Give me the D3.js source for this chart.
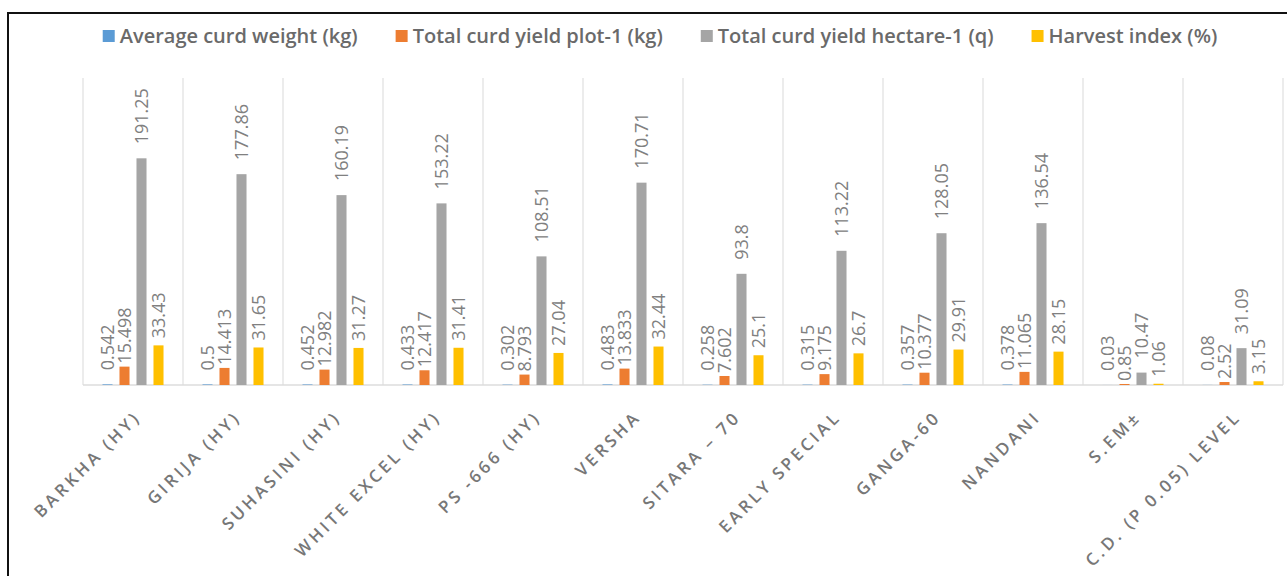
<!DOCTYPE html>
<head>
<meta charset="utf-8">
<style>
body { margin: 0; background: #fff; }
text { font-family: "Open Sans", sans-serif; }
</style>
</head>
<body>
<script src="https://cdn.jsdelivr.net/npm/d3@7"></script>
<script>
// varieties / rows
var categories = ["BARKHA (HY)", "GIRIJA (HY)", "SUHASINI (HY)", "WHITE EXCEL (HY)", "PS -666 (HY)",
    "VERSHA", "SITARA \u2013 70", "EARLY SPECIAL", "GANGA-60", "NANDANI", "S.EM\u00b1", "C.D. (P 0.05) LEVEL"];
var seriesNames = ["Average curd weight (kg)", "Total curd yield plot-1 (kg)",
    "Total curd yield hectare-1 (q)", "Harvest index (%)"];
var avgCurdWeight = [0.542, 0.5, 0.452, 0.433, 0.302, 0.483, 0.258, 0.315, 0.357, 0.378, 0.03, 0.08];
var yieldPlot = [15.498, 14.413, 12.982, 12.417, 8.793, 13.833, 7.602, 9.175, 10.377, 11.065, 0.85, 2.52];
var yieldHectare = [191.25, 177.86, 160.19, 153.22, 108.51, 170.71, 93.8, 113.22, 128.05, 136.54, 10.47, 31.09];
var harvestIndex = [33.43, 31.65, 31.27, 31.41, 27.04, 32.44, 25.1, 26.7, 29.91, 28.15, 1.06, 3.15];

var values = [avgCurdWeight, yieldPlot, yieldHectare, harvestIndex];
var colors = ["#5b9bd5", "#ed7d31", "#a5a5a5", "#ffc000"];
var labelGap = [14, 3, 14, 7];

width = 1287, height = 576;
plotTop = 78, base = 385;

svg = d3.select("body").append("svg")
    .attr("width", width)
    .attr("height", height);

// outer frame (runs off the right and bottom edge)
svg.append("rect")
    .attr("x", 8).attr("y", 13)
    .attr("width", 1300).attr("height", 600)
    .attr("fill", "none")
    .attr("stroke", "#111")
    .attr("stroke-width", 2);

x0 = d3.scaleBand().domain(categories).range([83, 1283]);
x1 = d3.scaleBand().domain(d3.range(4)).range([0, x0.bandwidth()])
    .paddingInner(0.41).paddingOuter(1.146);
y = d3.scaleLinear().domain([0, 259]).range([base, plotTop]);

// vertical gridlines between categories
grid = categories.map(function (c) { return x0(c); }).concat([x0.range()[1]]);
svg.selectAll(".grid").data(grid).enter().append("line")
    .attr("x1", function (d) { return d; })
    .attr("x2", function (d) { return d; })
    .attr("y1", plotTop)
    .attr("y2", base)
    .attr("stroke", "#e6e6e6")
    .attr("stroke-width", 1.5);

svg.append("line")
    .attr("x1", x0.range()[0]).attr("x2", x0.range()[1])
    .attr("y1", base).attr("y2", base)
    .attr("stroke", "#dcdcdc")
    .attr("stroke-width", 1.5);

groups = svg.selectAll(".cat").data(categories).enter().append("g")
    .attr("transform", function (d) { return "translate(" + x0(d) + ",0)"; });

groups.each(function (c, ci) {
    g = d3.select(this);
    for (s = 0; s < 4; s++) {
        v = values[s][ci];
        g.append("rect")
            .attr("x", x1(s))
            .attr("y", y(v))
            .attr("width", x1.bandwidth())
            .attr("height", base - y(v))
            .attr("fill", colors[s]);
        lx = x1(s) + x1.bandwidth() / 2;
        ly = y(v) - labelGap[s];
        g.append("text")
            .attr("transform", "translate(" + lx + "," + ly + ") rotate(-90)")
            .attr("dy", "0.35em")
            .attr("font-size", 18)
            .attr("fill", "#808080")
            .text(String(v));
    }
});

// category labels, slanted
svg.selectAll(".xl").data(categories).enter().append("text")
    .attr("transform", function (d) {
        return "translate(" + (x0(d) + x0.bandwidth() / 2 + 9) + "," + (base + 33) + ") rotate(-45)";
    })
    .attr("text-anchor", "end")
    .attr("font-size", 17)
    .attr("font-weight", 600)
    .attr("letter-spacing", 3.3)
    .attr("fill", "#777")
    .text(function (d) { return d; });

// legend
legend = svg.append("g");
xpos = 0;
seriesNames.forEach(function (n, i) {
    it = legend.append("g").attr("transform", "translate(" + xpos + ",0)");
    it.append("rect")
        .attr("x", 0).attr("y", 30)
        .attr("width", 12).attr("height", 12)
        .attr("fill", colors[i]);
    t = it.append("text")
        .attr("x", 17).attr("y", 43)
        .attr("font-size", 20)
        .attr("font-weight", 600)
        .attr("fill", "#6a6a6a")
        .text(n);
    xpos += 17 + t.node().getComputedTextLength() + 38;
});
lw = xpos - 38;
legend.attr("transform", "translate(" + (660 - lw / 2) + ",0)");
</script>
</body>
